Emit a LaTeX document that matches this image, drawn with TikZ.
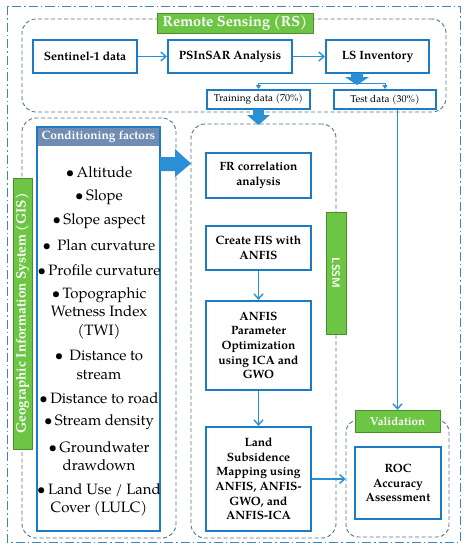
\documentclass[tikz,border=0pt]{standalone}
\usepackage{fontspec}
\setmainfont{TeX Gyre Pagella}
\usetikzlibrary{arrows.meta}
\definecolor{bbl}{HTML}{1B7BC4}
\definecolor{abl}{HTML}{2B8FD6}
\definecolor{grn}{HTML}{6CC644}
\definecolor{hdr}{HTML}{6F8DB2}
\definecolor{dsh}{HTML}{4F7391}
\definecolor{odsh}{HTML}{3C88BE}
\tikzset{
  box/.style={draw=bbl, line width=2.2pt, inner sep=0pt, align=center, font=\bfseries\fontsize{12}{14.6}\selectfont},
  smallbox/.style={draw=bbl, line width=1.8pt, inner sep=0pt, align=center, font=\fontsize{10}{12}\selectfont},
  glabel/.style={fill=grn, draw=grn!70!black, line width=0.4pt, text=white, inner sep=0pt, align=center, font=\bfseries\fontsize{13.5}{15}\selectfont},
  region/.style={draw=dsh, dashed, dash pattern=on 4pt off 2.5pt, line width=0.9pt, rounded corners=14pt, inner sep=0pt},
  thinarrow/.style={draw=abl, line width=1.5pt, -{Straight Barb[length=5pt,width=9pt,line width=1.4pt]}},
  tinyarrow/.style={draw=abl, line width=0.9pt, -{Triangle[length=4pt,width=5pt]}},
  blockarrow/.style={fill=abl},
  factor/.style={align=center, inner sep=0pt, font=\fontsize{15}{18.5}\selectfont},
}
\begin{document}
\begin{tikzpicture}[x=1pt,y=-1pt]
\useasboundingbox (0,0) rectangle (469,550);
% outer dash-dot frame
\draw[odsh, line width=0.9pt, dash pattern=on 9pt off 3pt on 1.5pt off 3pt] (7,6) rectangle (460,542);
% regions
\node[region, minimum width=424pt, minimum height=93pt] (rsr) at (234,65.5) {};
\node[region, minimum width=154pt, minimum height=420pt] (gisr) at (99,328) {};
\node[region, minimum width=145pt, minimum height=414pt] (lssmr) at (263.5,331) {};
\node[region, rounded corners=12pt, minimum width=103pt, minimum height=117pt] (vr) at (397.5,478.5) {};
% labels
\node[glabel, minimum width=156pt, minimum height=20pt, font=\bfseries\fontsize{14.5}{16}\selectfont] (rsl) at (235,23) {Remote Sensing (RS)};
\node[glabel, rotate=90, minimum width=271pt, minimum height=19pt] (gisl) at (22.5,313.5) {Geographic Information System (GIS)};
\node[glabel, rotate=-90, minimum width=122pt, minimum height=20pt, font=\sffamily\bfseries\fontsize{11}{13}\selectfont] (lssml) at (336,273) {LSSM};
\node[glabel, minimum width=85pt, minimum height=22pt, font=\bfseries\fontsize{11.5}{14}\selectfont] (vl) at (397.5,421) {Validation};
% RS boxes
\node[box, minimum width=104pt, minimum height=33pt] (s1) at (85,56.5) {Sentinel-1 data};
\node[box, minimum width=124pt, minimum height=33pt] (ps) at (230,56.5) {PSInSAR Analysis};
\node[box, minimum width=103pt, minimum height=33pt] (ls) at (377.5,56.5) {LS Inventory};
\node[smallbox, minimum width=103pt, minimum height=19pt] (tr) at (258.5,99.5) {Training data (70\%)};
\node[smallbox, minimum width=102pt, minimum height=19pt] (te) at (385,99.5) {Test data (30\%)};
% conditioning factors
\node[fill=hdr, minimum width=123pt, minimum height=19pt, inner sep=0pt, text=white, font=\bfseries\fontsize{12}{14}\selectfont] (cfh) at (98.5,136.5) {Conditioning factors};
\node[draw=bbl, line width=2.2pt, minimum width=123pt, minimum height=404pt, inner sep=0pt] (cf) at (98.5,329) {};
\node[factor] (f1) at (99,172) {\textbullet\,Altitude};
\node[factor] (f2) at (99,197) {\textbullet\,Slope};
\node[factor] (f3) at (99,221) {\textbullet\,Slope aspect};
\node[factor] (f4) at (99,245) {\textbullet\ \,Plan curvature};
\node[factor] (f5) at (99,270) {\textbullet\,Profile curvature};
\node[factor] (f6) at (99,313) {\textbullet\,Topographic\\Wetness Index\\(TWI)};
\node[factor] (f7) at (99,365) {\textbullet\ \,Distance to\\stream};
\node[factor] (f8) at (99,398) {\textbullet\,Distance to road};
\node[factor] (f9) at (99,422) {\textbullet\,Stream density};
\node[factor] (f10) at (99,456) {\textbullet\,Groundwater\\drawdown};
\node[factor] (f11) at (99,500) {\textbullet\,Land Use / Land\\Cover (LULC)};
% LSSM boxes
\node[box, minimum width=105pt, minimum height=45pt] (fr) at (258.5,175.5) {FR correlation\\analysis};
\node[box, minimum width=105pt, minimum height=44pt] (fis) at (258.5,248) {Create FIS with\\ANFIS};
\node[box, minimum width=105pt, minimum height=89pt] (opt) at (258.5,345.5) {ANFIS\\Parameter\\Optimization\\using ICA and\\GWO};
\node[box, minimum width=105pt, minimum height=104pt] (map) at (258.5,479) {Land\\Subsidence\\Mapping using\\ANFIS, ANFIS-\\GWO, and\\ANFIS-ICA};
\node[box, minimum width=86pt, minimum height=72pt] (roc) at (398,483) {ROC\\Accuracy\\Assessment};
% connectors
\draw[thinarrow] (s1.east) -- (ps.west);
\draw[thinarrow] (ps.east) -- (ls.west);
\fill[blockarrow] (351,73) -- (363,73) -- (363,77) -- (369,77) -- (357,85) -- (345,77) -- (351,77) -- cycle;
\coordinate (sp) at (357,83);
\draw[tinyarrow] (sp) -| (tr.north);
\draw[tinyarrow] (sp) -| (te.north);
\fill[blockarrow] (253,109) -- (264,109) -- (264,115) -- (270,115) -- (258.5,125) -- (247,115) -- (253,115) -- cycle;
\fill[blockarrow] (160,157) -- (175,157) -- (175,149) -- (191,163.5) -- (175,177) -- (175,171) -- (160,171) -- cycle;
\draw[thinarrow] (fis.south) -- (opt.north);
\draw[thinarrow] (opt.south) -- (map.north);
\draw[thinarrow] (map.east) -- (map.east -| vr.west);
\draw[thinarrow] (vl.north |- te.south) -- (vl.north);
\end{tikzpicture}
\end{document}
